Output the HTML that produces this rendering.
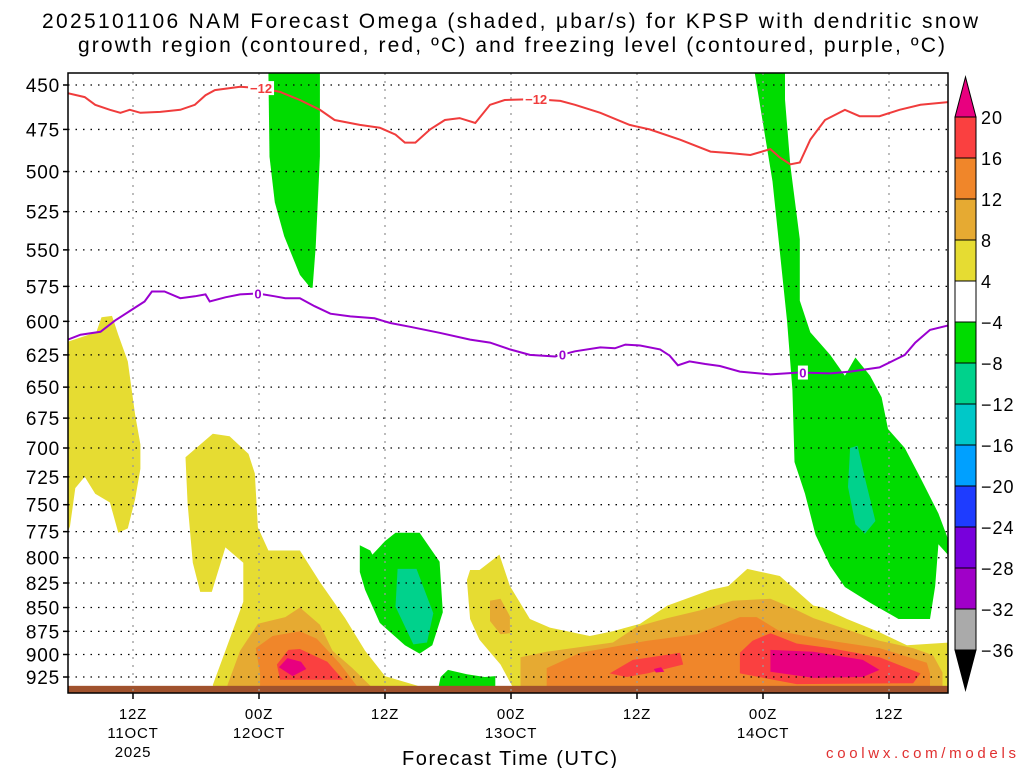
<!DOCTYPE html>
<html><head><meta charset="utf-8"><style>
body{margin:0;background:#fff;}
svg{display:block;font-family:"Liberation Sans",sans-serif;}
</style></head><body>
<svg id="chart" width="1024" height="768" viewBox="0 0 1024 768">
<text x="42" y="28" font-size="21" textLength="936" lengthAdjust="spacing">2025101106 NAM Forecast Omega (shaded, μbar/s) for KPSP with dendritic snow</text>
<text x="78" y="52" font-size="21" textLength="867" lengthAdjust="spacing">growth region (contoured, red, ºC) and freezing level (contoured, purple, ºC)</text>
<defs><clipPath id="plotclip"><rect x="68" y="73" width="880" height="620"/></clipPath></defs>
<g id="fills" clip-path="url(#plotclip)"></g>
<g id="grid"></g>
<g id="lines" clip-path="url(#plotclip)"></g>
<g id="axes"></g>
<g id="cbar"></g>
<text x="402" y="765" font-size="20" textLength="215" lengthAdjust="spacing">Forecast Time (UTC)</text>
<text x="826" y="758" font-size="15" fill="#e03030" textLength="190" lengthAdjust="spacing">coolwx.com/models</text>
</svg>
<script>
// ---- data (hours since 06Z 11 Oct, pressure hPa) ----
const pressureTicks=[450,475,500,525,550,575,600,625,650,675,700,725,750,775,800,825,850,875,900,925];
const timeTickHours=[6,18,30,42,54,66,78];
const timeTickLabels=[["12Z","11OCT","2025"],["00Z","12OCT"],["12Z"],["00Z","13OCT"],["12Z"],["00Z","14OCT"],["12Z"]];
const cbarLevels=[20,16,12,8,4,-4,-8,-12,-16,-20,-24,-28,-32,-36];
const cbarColors=["#e8007f","#fa4040","#f0862a","#e6aa32","#e6dc32","#ffffff","#00dc00","#00d28c","#00c8c8","#00a0ff","#1e3cff","#7800dc","#a000c8","#aaaaaa","#000000"];
const yellowAreas=[
[[-0.2,615],[2.5,608],[3,597],[4,596],[4.6,610],[5.5,630],[6.2,672],[6.7,697],[6.7,718],[6.2,745],[5.5,772],[4.6,776],[3.8,748],[2.4,740],[1.4,725],[0.5,735],[0,770],[-0.2,775]],
[[11.0,708],[13.6,688],[15.2,690],[17.0,705],[17.6,722],[17.9,771],[18.9,793],[21.0,793],[21.9,793],[23.8,824],[26.2,861],[28.1,896],[30.0,924],[33.1,935],[33.1,942],[13.8,942],[13.6,934],[14.8,896],[16.5,844],[16.5,805],[14.8,790],[13.5,834],[12.4,834],[11.7,805],[11.2,749]],
[[37.8,822],[38.1,812],[39,812],[40.9,797],[41.9,828],[43.8,862],[45.7,871],[49.5,880],[51.7,875],[54.3,867],[56.9,848],[61,832],[62.7,828],[64.5,811],[65.4,813],[67.6,818],[68.9,830],[70.8,848],[71.7,850],[74,862],[77.1,876],[79.7,890],[83.8,887],[83.8,942],[42.1,942],[42.1,935],[41,911],[39,884],[38.1,862]]
];
const goldAreas=[
[[15,934],[16.2,896],[17.9,867],[20.5,860],[21.9,850],[23.8,868],[25,896],[26.9,915],[28.6,935],[28.6,942],[15,942]],
[[42.9,903],[45.4,897],[51.7,887],[54,870],[56.9,861],[60,853],[63.1,843],[66.7,841],[68.9,851],[70.8,861],[74,873],[77.1,885],[80.3,893],[82.2,901],[83.1,920],[83.1,942],[42.9,942]],
[[40,843],[41,841],[41.9,859],[41.9,877],[41,878],[40,864]]
];
const orangeAreas=[
[[18.1,921],[17.7,893],[19.3,880],[21.9,875],[23.5,883],[25.7,910],[27.3,935],[27.3,942],[18.1,942]],
[[45.4,915],[48.6,898],[55,885],[59.7,878],[63.8,860],[65.4,860],[67.6,875],[72.4,885],[77.1,893],[81.6,909],[81.9,921],[81.9,942],[45.4,942]]
];
const redAreas=[
[[19.7,911],[20.8,895],[21.9,894],[24.5,908],[26,928],[20,928]],
[[51.4,921],[53.6,906],[58.1,898],[58.4,911],[55,921],[53,925]],
[[63.8,898],[65,885],[66.7,877],[69.2,888],[72.4,893],[77.1,903],[81,921],[80.3,932],[69.2,933],[63.8,921]]
];
const magentaAreas=[
[[19.9,914],[20.7,904],[22,908],[22.5,916],[21.2,924]],
[[66.7,895],[70.8,897],[75.5,906],[77.1,917],[75.5,925],[70.8,926],[66.7,919]],
[[55.6,916],[56.3,914],[56.6,919],[55.8,920]]
];
const greenAreas=[
[[18.9,443],[19,491],[19.5,519],[20.4,541],[21.9,567],[22.9,576],[23.1,576],[23.4,548],[23.8,491],[23.8,443]],
[[27.6,788],[28.6,793],[28.8,797],[30,784],[31,776],[33.3,776],[35.2,804],[35.5,855],[34.5,890],[33.3,899],[31.9,890],[29.5,866],[28.1,832],[27.6,814]],
[[35,942],[35.3,925],[36,917],[37.8,922],[39.5,925],[40.5,924],[40.5,942]],
[[65.2,443],[66.2,479],[66.9,506],[67.6,551],[68.3,600],[68.8,652],[69.0,712],[70.0,740],[71.0,778],[72.4,808],[73.8,829],[76.2,845],[78.9,862],[81.9,862],[82.4,828],[82.7,787],[83.6,797],[84,792],[82.7,758],[81,726],[79.5,700],[77.9,684],[77.3,658],[76.2,641],[74.8,627],[73.8,641],[72.4,625],[70.5,608],[69.5,585],[69.5,543],[68.6,496],[68.1,458],[68.1,443]]
];
const tealAreas=[
[[31.2,811],[33,811],[34.6,856],[34,887],[32.7,889],[31,849]],
[[74.3,700],[75,698],[75.7,726],[76.7,765],[75.7,777],[74.8,768],[74.1,734]]
];
const snowLineHours=[-0.2,1.4,2.4,3.8,4.8,5.7,6.7,8.6,10.5,11.9,12.9,13.8,16.2,18.1,20,21.9,23.8,25.2,27.6,29.5,31,31.9,32.9,34.3,35.7,37.1,38.6,40,41.4,44.3,46.7,48.1,50.5,53.3,55.2,58.1,61,62.9,64.8,66.7,67.6,68.6,69.5,70.5,71.9,73.8,75.2,77.1,79,81,83.8];
const snowLinePres=[454.5,456.7,461,463.8,465.5,463.8,465.5,465,463.8,461,455.6,452.8,451,451.7,453.8,458.3,463.8,469.6,472.4,474,478,482.7,482.7,475,469.6,468.5,471.3,461,458.3,457.8,458.8,461,465.5,472.4,475,481,488,488.9,490,486.5,491.5,495.6,494.5,481,469.6,463.8,467.4,467.4,463.8,461,459.4];
const freezeHours=[-0.2,1,2.9,4.3,5.7,7.1,7.8,9,10.5,11.9,12.9,13.3,14.8,16.2,17.9,19.5,20.5,21.9,23.3,24.8,26.7,29,30.5,32.4,35.2,38.1,40,41.9,43.8,46.2,48.1,50.5,51.9,52.9,54.3,56.2,57.1,57.9,59,60.5,61.9,63.8,66.7,69.5,72.4,74.3,77.1,78.6,79.5,80.5,81.9,83.8];
const freezePres=[613.5,609.8,607.7,599.3,592.5,585.7,578.6,578.6,583.3,582,580.6,585.7,582.7,580.6,580,582,583.3,583.3,589,594.4,596.4,597.8,601.2,604,608.4,613.5,615.7,620.8,625,626.2,622.3,619.3,620,617.2,617.9,620.8,625.5,633,630,632,633.5,637.8,640,638.5,639.2,637.8,634.6,628.6,625,615.7,606.3,602.7];
const snowLabelHours=[18.1,44.3];
const freezeLabelHours=[17.9,46.9,69.8];
const surfacePres=935;

// ---- scales ----
const X0=70, PXH=10.5, LEFT=68, RIGHT=948, TOP=73, BOT=693;
function xs(h){return X0+h*PXH;}
function ys(p){return 85+821.6*Math.log(p/450);}
const NS="http://www.w3.org/2000/svg";
function mk(tag,attrs,parent){const e=document.createElementNS(NS,tag);for(const k in attrs)e.setAttribute(k,attrs[k]);parent.appendChild(e);return e;}
const fills=document.getElementById('fills');
function drawAreas(list,color,name){
  list.forEach(poly=>{
    const p=mk('polygon',{points:poly.map(d=>xs(d[0]).toFixed(1)+','+ys(d[1]).toFixed(1)).join(' '),fill:color},fills);
    
    
  });
}
drawAreas(yellowAreas,cbarColors[4],'omega-4-to-8');
drawAreas(goldAreas,cbarColors[3],'omega-8-to-12');
drawAreas(orangeAreas,cbarColors[2],'omega-12-to-16');
drawAreas(redAreas,cbarColors[1],'omega-16-to-20');
drawAreas(magentaAreas,cbarColors[0],'omega-above-20');
drawAreas(greenAreas,cbarColors[6],'omega-minus4-to-minus8');
drawAreas(tealAreas,cbarColors[7],'omega-minus8-to-minus12');
const ground=mk('rect',{x:LEFT,y:ys(surfacePres),width:RIGHT-LEFT,height:BOT-ys(surfacePres),fill:'#a0522d'},fills);



// grid
const grid=document.getElementById('grid');
pressureTicks.forEach(p=>{
  const l=mk('line',{x1:LEFT,x2:RIGHT,y1:ys(p),y2:ys(p),stroke:'#000','stroke-width':1.3,'stroke-dasharray':'1.5 6'},grid);
  
  
});
timeTickHours.forEach(h=>{
  const l=mk('line',{x1:xs(h),x2:xs(h),y1:TOP,y2:BOT,stroke:'#999','stroke-width':1.3,'stroke-dasharray':'2 6'},grid);
  
  
});

// contours
const lines=document.getElementById('lines');
function drawLine(hs,ps,color,name){
  const d=hs.map((h,i)=>(i?'L':'M')+xs(h).toFixed(1)+' '+ys(ps[i]).toFixed(1)).join(' ');
  const p=mk('path',{d:d,fill:'none',stroke:color,'stroke-width':2},lines);
  
  
}
function interp(hs,ps,h){for(let i=1;i<hs.length;i++){if(h<=hs[i]){const t=(h-hs[i-1])/(hs[i]-hs[i-1]);return ps[i-1]+t*(ps[i]-ps[i-1]);}}return ps[ps.length-1];}
drawLine(snowLineHours,snowLinePres,'#f03c3c','snow-growth-minus12-contour');
drawLine(freezeHours,freezePres,'#9a00d0','freezing-level-contour');
snowLabelHours.forEach(h=>{
  const y=ys(interp(snowLineHours,snowLinePres,h));
  const r=mk('rect',{x:xs(h)-12,y:y-7,width:26,height:14,fill:'#fff'},lines);
  
  
  const t=mk('text',{x:xs(h)+1,y:y+5,'text-anchor':'middle','font-size':13,'font-weight':'bold',fill:'#f03c3c'},lines);
  t.textContent='−12';
  
  
});
freezeLabelHours.forEach(h=>{
  const y=ys(interp(freezeHours,freezePres,h));
  const r=mk('rect',{x:xs(h)-5,y:y-7,width:10,height:14,fill:'#fff'},lines);
  
  
  const t=mk('text',{x:xs(h),y:y+5,'text-anchor':'middle','font-size':13,'font-weight':'bold',fill:'#9a00d0'},lines);
  t.textContent='0';
  
  
});

// axes
const axes=document.getElementById('axes');
const frame=mk('rect',{x:LEFT,y:TOP,width:RIGHT-LEFT,height:BOT-TOP,fill:'none',stroke:'#000','stroke-width':1.5},axes);


pressureTicks.forEach(p=>{
  const tk=mk('line',{x1:LEFT-5,x2:LEFT,y1:ys(p),y2:ys(p),stroke:'#000','stroke-width':1.5},axes);
  
  
  const t=mk('text',{x:60,y:ys(p)+7,'text-anchor':'end','font-size':19,'letter-spacing':'0.8'},axes);
  t.textContent=p;
  
  
});
timeTickHours.forEach((h,i)=>{
  const tk=mk('line',{x1:xs(h),x2:xs(h),y1:BOT,y2:BOT+6,stroke:'#000','stroke-width':1.5},axes);
  
  
  timeTickLabels[i].forEach((s,j)=>{
    const t=mk('text',{x:xs(h),y:719+j*19,'text-anchor':'middle','font-size':15,'letter-spacing':'0.8'},axes);
    t.textContent=s;
    
    
  });
});

// colorbar
const cb=document.getElementById('cbar');
const CBX=955, CBW=21, CBT=117, STEP=41;
const up=mk('polygon',{points:`${CBX},${CBT} ${CBX+CBW},${CBT} ${CBX+CBW/2},${CBT-40}`,fill:cbarColors[0],stroke:'#000','stroke-width':1},cb);


for(let i=0;i<cbarLevels.length-1;i++){
  const r=mk('rect',{x:CBX,y:CBT+i*STEP,width:CBW,height:STEP,fill:cbarColors[i+1],stroke:'#000','stroke-width':1},cb);
  
  
}
const lastY=CBT+(cbarLevels.length-1)*STEP;
const dn=mk('polygon',{points:`${CBX},${lastY} ${CBX+CBW},${lastY} ${CBX+CBW/2},${lastY+40}`,fill:cbarColors[14],stroke:'#000','stroke-width':1},cb);


cbarLevels.forEach((v,i)=>{
  const t=mk('text',{x:CBX+CBW+5,y:CBT+i*STEP+7,'font-size':18,'letter-spacing':'1'},cb);
  t.textContent=v<0?'−'+(-v):String(v);
  
  
});
</script>
</body></html>
